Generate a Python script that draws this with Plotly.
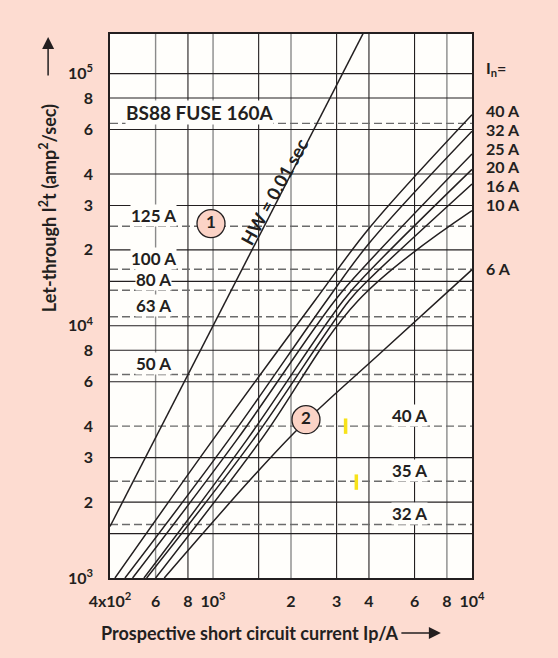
import numpy as np
import plotly.graph_objects as go

INK = "#231f20"
FONT = "Lato"

# axis ticks
X_TICKS = [400, 600, 800, 1000, 1500, 2000, 3000, 4000, 6000, 8000, 10000]
X_TICK_TEXT = ["4x10<sup>2</sup>", "6", "8", "10<sup>3</sup>", "", "2", "3", "4", "6", "8", "10<sup>4</sup>"]
X_GREY_LINES = [600, 1000, 2000, 8000]
Y_TICKS = [1000, 1500, 2000, 3000, 4000, 6000, 8000, 10000, 15000, 20000, 30000, 40000, 60000, 80000, 100000]
Y_TICK_TEXT = ["10<sup>3</sup>", "", "2", "3", "4", "6", "8", "10<sup>4</sup>", "", "2", "3", "4", "6", "8", "10<sup>5</sup>"]
Y_NO_GRID = [4000]

# BS88 fuse let-through levels (dashed)
FUSE_LABELS = ["BS88 FUSE 160A", "125 A", "100 A", "80 A", "63 A", "50 A", "40 A", "35 A", "32 A"]
FUSE_I2T = [63500, 24800, 16750, 13840, 10860, 6410, 4000, 2420, 1630]
FUSE_LABEL_X = [890, 590, 590, 590, 590, 590, 5760, 5760, 5760]

# HW = 0.01 sec line (I^2 t = 0.01 * I^2)
HW_X = [400, 600, 1000, 2000, 3000, 3800]
HW_Y = [1600, 3600, 10000, 40000, 90000, 144400]

# fuse curves In = ...
CURVE_NAMES = ["40 A", "32 A", "25 A", "20 A", "16 A", "10 A", "6 A"]
CURVE_X = [
    [418, 995, 2475, 4036, 10000],
    [457, 1146, 2747, 4036, 10000],
    [489, 1231, 2956, 4036, 10000],
    [541, 1346, 3184, 4036, 10000],
    [554, 1423, 3357, 4036, 10000],
    [600, 1526, 3637, 10000],
    [648, 2040, 4411, 10000],
]
CURVE_Y = [
    [1000, 3512, 12600, 24580, 68700],
    [1000, 3512, 12600, 21440, 59100],
    [1000, 3512, 12600, 18140, 48000],
    [1000, 3512, 12600, 16560, 41700],
    [1000, 3512, 12600, 15400, 36500],
    [1000, 3512, 12600, 28600],
    [1000, 3733, 7762, 16700],
]
RIGHT_LABEL_Y = [71290, 59950, 50420, 42780, 35960, 30240, 16870]

# numbered circles
CIRCLE_TEXT = ["1", "2"]
CIRCLE_X = [982, 2285]
CIRCLE_Y = [25430, 4243]

# yellow marks
MARK_X = [3250, 3575]
MARK_Y = [4000, 2400]

X_RANGE = [np.log10(400), 4.0]
Y_RANGE = [3.0, 5.157]
x_lo, x_hi = 10 ** X_RANGE[0], 10 ** X_RANGE[1]
y_lo, y_hi = 10 ** Y_RANGE[0], 10 ** Y_RANGE[1]

fig = go.Figure()


def seg_trace(xs, ys, color, width, dash="solid", shape="linear"):
    fig.add_trace(go.Scatter(x=xs, y=ys, mode="lines", hoverinfo="skip", showlegend=False,
                             line=dict(color=color, width=width, dash=dash, shape=shape)))


# grid
for x in X_TICKS[1:-1]:
    grey = x in X_GREY_LINES
    seg_trace([x, x], [y_lo, y_hi], "#8a8a8a" if grey else INK, 1.4 if grey else 1.1)
for y in Y_TICKS[1:]:
    if y in Y_NO_GRID:
        continue
    seg_trace([x_lo, x_hi], [y, y], INK, 1.1)

# dashed fuse levels
for v in FUSE_I2T:
    seg_trace([x_lo, x_hi], [v, v], "#6b6b6b", 1.4, dash="8px,4px")

# curves
seg_trace(HW_X, HW_Y, INK, 1.5)
for xs, ys in zip(CURVE_X, CURVE_Y):
    seg_trace(xs, ys, INK, 1.5, shape="spline")

fig.add_trace(go.Scatter(x=MARK_X, y=MARK_Y, mode="markers", hoverinfo="skip", showlegend=False,
                         marker=dict(symbol="line-ns", size=11, line=dict(color="#f7e21a", width=3.5))))
fig.add_trace(go.Scatter(x=CIRCLE_X, y=CIRCLE_Y, mode="markers+text", text=CIRCLE_TEXT,
                         textfont=dict(family=FONT, size=17, color=INK, weight=700),
                         hoverinfo="skip", showlegend=False,
                         marker=dict(size=28, color="#fbd3c6", line=dict(color=INK, width=1.3))))

label_font = dict(family=FONT, size=17, color=INK, weight=700)
annotations = []
for label, v, lx in zip(FUSE_LABELS, FUSE_I2T, FUSE_LABEL_X):
    f = dict(label_font, size=19) if label.startswith("BS88") else label_font
    annotations.append(dict(x=np.log10(lx), y=np.log10(v), xref="x", yref="y", text=label,
                            showarrow=False, yshift=11, bgcolor="#fffefb", borderpad=0, font=f))

right_font = dict(label_font, size=16)
annotations.append(dict(x=1, y=np.log10(104570), xref="paper", yref="y", xanchor="left", xshift=12,
                        text="I<sub>n</sub>=", showarrow=False, font=right_font))
for name, y in zip(CURVE_NAMES, RIGHT_LABEL_Y):
    annotations.append(dict(x=1, y=np.log10(y), xref="paper", yref="y", xanchor="left", xshift=12,
                            text=name, showarrow=False, font=right_font))

annotations.append(dict(x=np.log10(1845), y=np.log10(34040), xref="x", yref="y", xshift=-8,
                        text="HW = 0.01 sec", textangle=-61, showarrow=False,
                        font=dict(label_font, size=18)))

# axis titles with arrows
annotations.append(dict(x=-0.171, y=0.68, xref="paper", yref="paper", textangle=-90,
                        xanchor="center", yanchor="middle",
                        text="Let-through I<sup>2</sup>t (amp<sup>2</sup>/sec)", showarrow=False,
                        font=dict(label_font, size=18)))
annotations.append(dict(x=-0.171, y=0.9945, xref="paper", yref="paper", ax=0, ay=40, text="",
                        showarrow=True, arrowhead=2, arrowsize=1.6, arrowwidth=1.5, arrowcolor=INK))
annotations.append(dict(x=0.387, y=-0.101, xref="paper", yref="paper",
                        xanchor="center", yanchor="middle",
                        text="Prospective short circuit current Ip/A", showarrow=False,
                        font=dict(label_font, size=18)))
annotations.append(dict(x=0.914, y=-0.101, xref="paper", yref="paper", ax=-41, ay=0, text="",
                        showarrow=True, arrowhead=2, arrowsize=1.6, arrowwidth=1.5, arrowcolor=INK))

axis_common = dict(type="log", showgrid=False, zeroline=False, ticks="", showline=True, mirror=True,
                   linecolor=INK, linewidth=1.5, tickfont=dict(family=FONT, size=16, color=INK, weight=700))
fig.update_xaxes(range=X_RANGE, tickmode="array", tickvals=X_TICKS, ticktext=X_TICK_TEXT,
                 ticklabelstandoff=8, **axis_common)
fig.update_yaxes(range=Y_RANGE, tickmode="array", tickvals=Y_TICKS, ticktext=Y_TICK_TEXT,
                 ticklabelstandoff=12, **axis_common)

fig.update_layout(
    width=558, height=658,
    margin=dict(l=110, r=86, t=34, b=80),
    paper_bgcolor="#fddcd1",
    plot_bgcolor="#fffefb",
    annotations=annotations,
    showlegend=False,
)

fig.write_html("out.html", config={"displayModeBar": False},
               post_script="document.body.style.margin='0';"
                           "document.body.style.background='#fddcd1';")
